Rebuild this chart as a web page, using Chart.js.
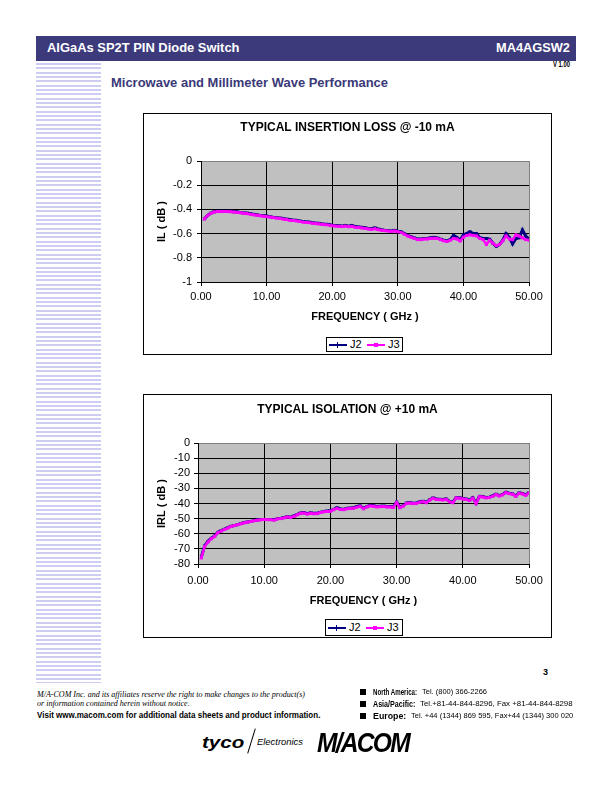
<!DOCTYPE html>
<html>
<head>
<meta charset="utf-8">
<script src="https://cdn.jsdelivr.net/npm/chart.js@4.4.1/dist/chart.umd.min.js"></script>
<style>
  html, body { margin: 0; padding: 0; background: #fff; }
  body { width: 612px; height: 792px; position: relative; overflow: hidden; font-family: "Liberation Sans", Arial, sans-serif; }
  .abs { position: absolute; white-space: nowrap; line-height: 1; transform-origin: 0 0; }
  .bar { position: absolute; left: 36px; top: 36px; width: 540px; height: 25px; background: #3c3a7b; }
  .stripes { position: absolute; left: 36px; top: 63px; width: 65px; height: 620px;
    background: repeating-linear-gradient(to bottom, #cdcdf3 0, #cdcdf3 2px, #fff 2px, #fff 4.33px); }
  .frame { position: absolute; border: 1px solid #000; box-sizing: border-box; background: #fff; }
  .frame canvas { display: block; }
  .legend { position: absolute; border: 1px solid #000; box-sizing: border-box; background: #fff; }
  .legend div { position: absolute; }
  .bullet { position: absolute; width: 6px; height: 6px; background: #000; }
</style>
</head>
<body>
<div class="bar"></div>
<div class="stripes"></div>

<div class="frame" style="left:143px;top:113px;width:409px;height:242px">
  <canvas id="ilChart" width="407" height="240"></canvas>
</div>
<div class="frame" style="left:143px;top:394px;width:409px;height:244px">
  <canvas id="isoChart" width="407" height="242"></canvas>
</div>

<script>
// frequency points (GHz)
const freqGHz = [
  0.5, 1, 1.5, 2, 2.5, 3, 3.5, 4, 4.5, 5,
  5.5, 6, 6.5, 7, 7.5, 8, 8.5, 9, 9.5, 10,
  10.5, 11, 11.5, 12, 12.5, 13, 13.5, 14, 14.5, 15,
  15.5, 16, 16.5, 17, 17.5, 18, 18.5, 19, 19.5, 20,
  20.5, 21, 21.5, 22, 22.5, 23, 23.5, 24, 24.5, 25,
  25.5, 26, 26.5, 27, 27.5, 28, 28.5, 29, 29.5, 30,
  30.5, 31, 31.5, 32, 32.5, 33, 33.5, 34, 34.5, 35,
  35.5, 36, 36.5, 37, 37.5, 38, 38.5, 39, 39.5, 40,
  40.5, 41, 41.5, 42, 42.5, 43, 43.5, 44, 44.5, 45,
  45.5, 46, 46.5, 47, 47.5, 48, 48.5, 49, 49.5, 50
];

// insertion loss @ -10 mA (dB)
const ilJ2 = [
  -0.48, -0.45, -0.43, -0.42, -0.415, -0.415, -0.415, -0.415, -0.415, -0.42,
  -0.42, -0.425, -0.43, -0.43, -0.435, -0.44, -0.445, -0.45, -0.452, -0.455,
  -0.46, -0.465, -0.468, -0.47, -0.475, -0.48, -0.484, -0.488, -0.49, -0.495,
  -0.5, -0.503, -0.505, -0.51, -0.513, -0.515, -0.52, -0.522, -0.525, -0.53,
  -0.532, -0.535, -0.538, -0.532, -0.538, -0.532, -0.542, -0.545, -0.548, -0.552,
  -0.558, -0.56, -0.552, -0.562, -0.568, -0.572, -0.574, -0.578, -0.572, -0.58,
  -0.585, -0.6, -0.615, -0.625, -0.635, -0.645, -0.645, -0.64, -0.64, -0.635,
  -0.63, -0.635, -0.645, -0.655, -0.66, -0.65, -0.615, -0.63, -0.655, -0.61,
  -0.6, -0.585, -0.6, -0.6, -0.635, -0.64, -0.64, -0.645, -0.68, -0.705,
  -0.69, -0.655, -0.6, -0.63, -0.685, -0.64, -0.635, -0.57, -0.62, -0.645
];
const ilJ3 = [
  -0.48, -0.45, -0.432, -0.422, -0.418, -0.418, -0.418, -0.418, -0.42, -0.422,
  -0.425, -0.428, -0.432, -0.435, -0.44, -0.445, -0.448, -0.452, -0.456, -0.46,
  -0.463, -0.468, -0.472, -0.475, -0.48, -0.484, -0.49, -0.492, -0.495, -0.5,
  -0.505, -0.508, -0.51, -0.515, -0.518, -0.52, -0.525, -0.527, -0.53, -0.535,
  -0.538, -0.54, -0.542, -0.538, -0.543, -0.54, -0.548, -0.55, -0.553, -0.558,
  -0.562, -0.565, -0.56, -0.568, -0.572, -0.576, -0.578, -0.582, -0.578, -0.585,
  -0.59, -0.605, -0.62, -0.63, -0.64, -0.65, -0.65, -0.645, -0.645, -0.64,
  -0.638, -0.64, -0.65, -0.66, -0.665, -0.655, -0.64, -0.645, -0.66, -0.63,
  -0.615, -0.61, -0.615, -0.62, -0.64, -0.65, -0.69, -0.655, -0.68, -0.7,
  -0.69, -0.66, -0.62, -0.645, -0.65, -0.61, -0.62, -0.635, -0.65, -0.655
];

// isolation @ +10 mA (dB)
const isoJ2 = [
  -75.5, -68, -65, -63, -61.5, -59, -58, -57, -56, -55,
  -54.5, -54, -53.2, -52.6, -52.2, -51.8, -51.2, -50.9, -50.6, -50.5,
  -50.5, -50.6, -50.8, -50, -49.8, -49.3, -48.7, -49, -48.2, -47.2,
  -46.2, -46, -46.7, -46.2, -46.5, -46.4, -45.8, -45.2, -45, -44.8,
  -43.8, -42.8, -43.6, -43.8, -43.2, -43, -42.8, -42, -41.6, -43.2,
  -42, -41.2, -41.5, -42, -41.8, -41.7, -42, -42, -42.3, -39,
  -42.5, -41.5, -39.6, -39.4, -39.8, -39.6, -38.8, -38.6, -39.2, -37.5,
  -36.3, -37, -37.2, -37.4, -37, -38.6, -39.2, -36, -36.2, -36.7,
  -37, -37.8, -36.2, -39.8, -35.2, -35.4, -36, -35.8, -35, -33.8,
  -34.8, -34, -32.5, -33.2, -33.6, -35, -33, -33.4, -34.3, -32.8
];
const isoJ3 = [
  -76, -68.5, -65.5, -63.3, -61.8, -59.3, -58.2, -57.2, -56.2, -55.2,
  -54.6, -54.1, -53.4, -52.8, -52.3, -51.9, -51.4, -51, -50.8, -50.6,
  -50.7, -50.8, -51, -50.2, -50, -49.5, -48.9, -49.3, -48.5, -47.5,
  -46.5, -46.3, -47, -46.5, -46.8, -46.7, -46, -45.5, -45.3, -45.1,
  -44.1, -43.2, -44, -44.1, -43.5, -43.3, -43.1, -42.4, -41.9, -43.5,
  -42.3, -41.6, -41.8, -42.3, -42.1, -42, -42.3, -42.3, -42.6, -39.4,
  -42.8, -41.8, -39.9, -39.7, -40.1, -39.9, -39.1, -38.9, -39.5, -37.8,
  -36.6, -37.3, -37.5, -37.7, -37.3, -38.9, -39.5, -36.3, -36.5, -37,
  -37.3, -38.1, -36.5, -40.1, -35.5, -35.7, -36.3, -36.1, -35.3, -34.1,
  -35.1, -34.3, -32.8, -33.5, -33.9, -35.3, -33.3, -33.7, -34.6, -33.1
];

const xTicks = [0, 10, 20, 30, 40, 50];
const ilYTicks = [0, -0.2, -0.4, -0.6, -0.8, -1];
const isoYTicks = [0, -10, -20, -30, -40, -50, -60, -70, -80];
const seriesNames = ['J2', 'J3'];

const FONT = "'Liberation Sans', Arial, sans-serif";
Chart.defaults.font.family = FONT;
Chart.defaults.color = '#000';

const plotBg = {
  id: 'plotBg',
  beforeDraw(chart) {
    const { ctx, chartArea: a } = chart;
    ctx.save();
    ctx.fillStyle = '#c0c0c0';
    ctx.fillRect(a.left, a.top, a.right - a.left, a.bottom - a.top);
    ctx.restore();
  }
};

function points(values) {
  return freqGHz.map((f, i) => ({ x: f, y: values[i] }));
}

function makeChart(id, title, yTitle, j2, j3, yTicks, g) {
  const lo = yTicks[yTicks.length - 1], hi = yTicks[0];
  return new Chart(document.getElementById(id), {
    type: 'line',
    data: {
      datasets: [
        { label: seriesNames[1], data: points(j3), borderColor: '#ff00ff', backgroundColor: '#ff00ff',
          borderWidth: 2.5, pointStyle: 'rect', pointRadius: 2.1, pointBorderWidth: 0, order: 0 },
        { label: seriesNames[0], data: points(j2), borderColor: '#000080', backgroundColor: '#000080',
          borderWidth: 3, pointStyle: 'crossRot', pointRadius: 1.8, pointBorderWidth: 1, order: 1 }
      ]
    },
    options: {
      responsive: false,
      animation: false,
      devicePixelRatio: 1,
      layout: { padding: 0 },
      plugins: {
        legend: { display: false },
        tooltip: { enabled: false },
        title: {
          display: true, text: title, color: '#000',
          font: { size: 12, weight: 'bold' },
          padding: { top: g.tTop, bottom: g.tBot }
        }
      },
      scales: {
        x: {
          type: 'linear', min: 0, max: 50,
          afterBuildTicks: s => { s.ticks = xTicks.map(v => ({ value: v })); },
          afterFit: s => { s.height = g.xh; },
          grid: { color: c => (c.tick && c.tick.value === 50 ? '#808080' : '#000'), tickColor: '#000', tickLength: 4 },
          border: { color: '#000' },
          ticks: { font: { size: 11 }, padding: g.xPad, maxRotation: 0, autoSkip: false, callback: v => v.toFixed(2) },
          title: { display: true, text: 'FREQUENCY ( GHz )', font: { size: 11, weight: 'bold' },
                   padding: { top: 0, bottom: g.xTitlePad } }
        },
        y: {
          type: 'linear', min: lo, max: hi,
          afterBuildTicks: s => { s.ticks = yTicks.map(v => ({ value: v })); },
          afterFit: s => { s.width = g.yw; },
          grid: { color: c => (c.tick && c.tick.value === 0 ? '#808080' : '#000'), tickColor: '#000', tickLength: 4 },
          border: { color: '#000' },
          ticks: { font: { size: 11 }, padding: g.yPad, autoSkip: false, callback: v => String(v) },
          title: { display: true, text: yTitle, font: { size: 11, weight: 'bold' },
                   padding: { top: 11, bottom: 0 } }
        },
        gap: {
          type: 'linear', position: 'right', display: true,
          afterFit: s => { s.width = 22; },
          grid: { display: false }, border: { display: false }, ticks: { display: false }
        }
      }
    },
    plugins: [plotBg]
  });
}

makeChart('ilChart', 'TYPICAL INSERTION LOSS @ -10 mA', 'IL ( dB )', ilJ2, ilJ3, ilYTicks,
  { tTop: 6, tBot: 26.6, xh: 72, xPad: 4, xTitlePad: 30.4, yw: 57, yPad: 5 });
makeChart('isoChart', 'TYPICAL ISOLATION @ +10 mA', 'IRL ( dB )', isoJ2, isoJ3, isoYTicks,
  { tTop: 7.8, tBot: 25.8, xh: 73, xPad: 6.5, xTitlePad: 29.4, yw: 54, yPad: 4 });

// legends
function legend(x, y, w, h) {
  const box = document.createElement('div');
  box.className = 'legend';
  Object.assign(box.style, { left: x + 'px', top: y + 'px', width: w + 'px', height: h + 'px' });
  const mid = (h - 2) / 2;
  const keys = [
    { name: seriesNames[0], color: '#000080', lx: 2, tx: 23, mark: 'bar' },
    { name: seriesNames[1], color: '#ff00ff', lx: 40, tx: 61, mark: 'sq' }
  ];
  keys.forEach(k => {
    const ln = document.createElement('div');
    Object.assign(ln.style, { left: k.lx + 'px', top: (mid - 1) + 'px', width: '18px', height: '2px', background: k.color });
    box.appendChild(ln);
    const mk = document.createElement('div');
    if (k.mark === 'sq') {
      Object.assign(mk.style, { left: (k.lx + 7) + 'px', top: (mid - 2) + 'px', width: '4px', height: '4px', background: k.color });
    } else {
      Object.assign(mk.style, { left: (k.lx + 8) + 'px', top: (mid - 3) + 'px', width: '1px', height: '6px', background: k.color });
    }
    box.appendChild(mk);
    const tx = document.createElement('div');
    tx.textContent = k.name;
    Object.assign(tx.style, { left: k.tx + 'px', top: (mid - 6.5) + 'px', fontSize: '11px', lineHeight: '13px' });
    box.appendChild(tx);
  });
  document.body.appendChild(box);
}
legend(326, 337, 77, 15);
legend(325, 619, 78, 17);

// page text, squeezed to the widths measured on the page
function put(text, x, y, w, size, css, align) {
  const el = document.createElement('div');
  el.className = 'abs';
  el.textContent = text;
  el.style.fontSize = size + 'px';
  Object.assign(el.style, css || {});
  document.body.appendChild(el);
  const nat = el.getBoundingClientRect().width;
  const left = align === 'right' ? x - w : align === 'center' ? x - w / 2 : x;
  el.style.left = left + 'px';
  el.style.top = (y - size * 0.49) + 'px';
  el.style.transform = 'scaleX(' + (w / nat) + ')';
  return el;
}
const bold = { fontWeight: 'bold' };
const white = { fontWeight: 'bold', color: '#fff' };
const navy = { fontWeight: 'bold', color: '#3a3978' };
const serif = { fontFamily: "'Liberation Serif', 'Times New Roman', serif", fontStyle: 'italic' };

put('AlGaAs SP2T PIN Diode Switch', 46.5, 47, 192.5, 13, white);
put('MA4AGSW2', 570, 47, 74, 13, white, 'right');
put('V 1.00', 570, 64.5, 17, 8.5, bold, 'right');
put('Microwave and Millimeter Wave Performance', 111, 82.5, 277, 13, navy);

put('3', 545, 672, 5, 9, bold, 'center');
put('M/A-COM Inc. and its affiliates reserve the right to make changes to the product(s)', 37.3, 694, 268, 9, serif);
put('or information contained herein without notice.', 37.3, 703, 152.7, 9, serif);
put('Visit www.macom.com for additional data sheets and product information.', 37.3, 716, 283.4, 9.3, bold);

const contacts = [
  ['North America:', 44, 'Tel. (800) 366-2266', 65, 692],
  ['Asia/Pacific:', 42.3, 'Tel.+81-44-844-8296,  Fax +81-44-844-8298', 152.6, 704],
  ['Europe:', 33.3, 'Tel. +44 (1344) 869 595,  Fax+44 (1344) 300 020', 162.3, 716]
];
contacts.forEach(([label, lw, value, vw, y]) => {
  const b = document.createElement('div');
  b.className = 'bullet';
  b.style.left = '360px';
  b.style.top = (y - 3) + 'px';
  document.body.appendChild(b);
  put(label, 372.7, y, lw, 9.5, bold);
  put(value, 372.7 + lw + 5, y, vw, 7.8);
});

// logos
put('tyco', 201.7, 742, 42.3, 17, { fontWeight: 'bold', fontStyle: 'italic' });
const slash = document.createElement('div');
Object.assign(slash.style, { position: 'absolute', left: '251px', top: '728px', width: '1px', height: '26px',
  background: '#000', transform: 'rotate(17deg)' });
document.body.appendChild(slash);
put('Electronics', 257, 742, 46, 9.5, { fontStyle: 'italic' });
put('M/ACOM', 317, 743, 92, 28, { fontWeight: 'bold', fontStyle: 'italic', letterSpacing: '-2px' });
</script>
</body>
</html>
